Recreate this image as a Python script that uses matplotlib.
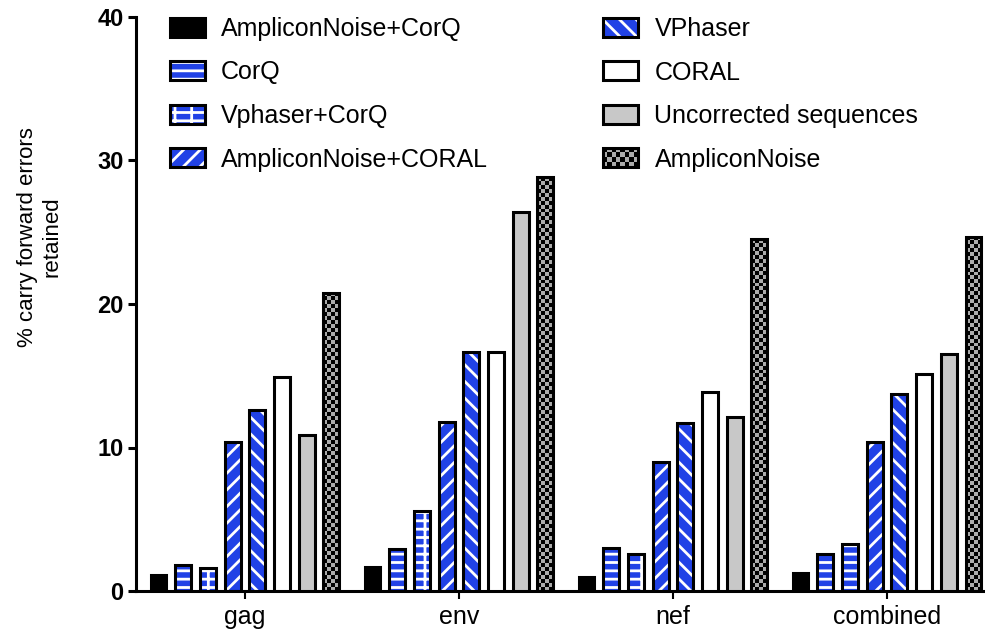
import matplotlib
matplotlib.use("Agg")

import numpy as np
import matplotlib.pyplot as plt
from matplotlib.patches import Rectangle
from matplotlib.colors import ListedColormap, Normalize
from matplotlib.legend_handler import HandlerBase, HandlerTuple
from matplotlib.image import BboxImage
from matplotlib.transforms import Bbox, TransformedBbox

# ---------------------------------------------------------------
# data
# ---------------------------------------------------------------
genes = ["gag", "env", "nef", "combined"]
methods = ["AmpliconNoise+CorQ", "CorQ", "Vphaser+CorQ", "AmpliconNoise+CORAL",
           "VPhaser", "CORAL", "Uncorrected sequences", "AmpliconNoise"]

ampnoise_corq  = [1.1, 1.7, 1.0, 1.25]
corq           = [1.8, 2.9, 3.0, 2.6]
vphaser_corq   = [1.6, 5.6, 2.6, 3.3]
ampnoise_coral = [10.4, 11.8, 9.0, 10.4]
vphaser        = [12.6, 16.65, 11.7, 13.7]
coral          = [14.9, 16.65, 13.9, 15.1]
uncorrected    = [10.9, 26.4, 12.1, 16.5]
ampnoise       = [20.8, 28.85, 24.5, 24.7]

series = [ampnoise_corq, corq, vphaser_corq, ampnoise_coral,
          vphaser, coral, uncorrected, ampnoise]

# ---------------------------------------------------------------
# style
# ---------------------------------------------------------------
BLUE = "#2142e6"
GREY = "#c8c8c8"
LW = 2.2
plt.rcParams["font.family"] = ["Liberation Sans", "DejaVu Sans"]
plt.rcParams["hatch.linewidth"] = 2.0

# (facecolor, hatch) per method; None hatch = plain fill
styles = [
    ("black", None),
    (BLUE, "--"),
    (BLUE, "+-"),
    (BLUE, "//"),
    (BLUE, "\\\\"),
    ("white", None),
    (GREY, None),
    ("checker", None),
]

checker_cmap = ListedColormap(["#acacac", "black"])


def checker(rows, cols):
    r, c = np.indices((rows, cols))
    return ((r + c) % 2).astype(float)


class HandlerChecker(HandlerBase):
    def create_artists(self, legend, orig_handle, xdescent, ydescent,
                       width, height, fontsize, trans):
        bb = TransformedBbox(Bbox.from_bounds(-xdescent, -ydescent, width, height), trans)
        img = BboxImage(bb, cmap=checker_cmap, norm=Normalize(0, 1),
                        interpolation="nearest", origin="lower")
        img.set_data(checker(4, 8))
        frame = Rectangle((-xdescent, -ydescent), width, height, facecolor="none",
                          edgecolor="black", lw=LW, transform=trans)
        return [img, frame]


# ---------------------------------------------------------------
# figure
# ---------------------------------------------------------------
W, H = 985, 632
fig = plt.figure(figsize=(W / 100, H / 100), dpi=100)
ax = fig.add_axes([136 / W, 41 / H, 849 / W, 574 / H])

XMIN, XMAX = -0.509, 3.458
YMAX = 40
step = 0.1154
width = 0.074
x = np.arange(len(genes))

px_per_x = 849 / (XMAX - XMIN)
px_per_y = 574 / YMAX

handles = []
for j, (vals, (fc, hatch)) in enumerate(zip(series, styles)):
    xs = x + (j - 3.5) * step
    if fc == "checker":
        ncols = 4
        cell_px = width * px_per_x / ncols
        for xi, v in zip(xs, vals):
            nrows = max(1, int(round(v * px_per_y / cell_px)))
            ax.imshow(checker(nrows, ncols), cmap=checker_cmap, vmin=0, vmax=1,
                      extent=(xi - width / 2, xi + width / 2, 0, v),
                      origin="lower", aspect="auto", interpolation="nearest", zorder=2)
        outline = ax.bar(xs, vals, width, facecolor="none", edgecolor="black",
                         lw=LW, zorder=3)
        handles.append(outline[0])
    elif hatch:
        ax.bar(xs, vals, width, facecolor=fc, edgecolor="white", hatch=hatch,
               lw=0, zorder=2)
        ax.bar(xs, vals, width, facecolor="none", edgecolor="black", lw=LW, zorder=3)
        handles.append((Rectangle((0, 0), 1, 1, facecolor=fc, edgecolor="white",
                                  hatch=hatch, lw=0),
                        Rectangle((0, 0), 1, 1, facecolor="none", edgecolor="black",
                                  lw=LW)))
    else:
        b = ax.bar(xs, vals, width, facecolor=fc, edgecolor="black", lw=LW, zorder=3)
        handles.append(b[0])

ax.set_xlim(XMIN, XMAX)
ax.set_ylim(0, YMAX)

for s in ["top", "right"]:
    ax.spines[s].set_visible(False)
for s in ["left", "bottom"]:
    ax.spines[s].set_linewidth(LW)

ax.set_yticks([0, 10, 20, 30, 40])
ax.set_xticks(x)
ax.set_xticklabels(genes, fontsize=18)
ax.tick_params(axis="y", length=6, width=LW, pad=3, labelsize=17)
ax.tick_params(axis="x", length=6, width=1.5, pad=4)
for t in ax.get_yticklabels():
    t.set_fontweight("bold")

ax.set_ylabel("% carry forward errors\nretained", fontsize=16, linespacing=1.25)
ax.yaxis.set_label_coords(-0.086, 0.617)

handler_map = {tuple: HandlerTuple(ndivide=1, pad=0)}
handler_map[handles[-1]] = HandlerChecker()
ax.legend(handles, methods, ncol=2, loc="upper left", frameon=False,
          fontsize=18, bbox_to_anchor=(170 / W, 1 - 17 / H),
          bbox_transform=fig.transFigure, borderpad=0, borderaxespad=0,
          handlelength=1.4, handleheight=0.8, handletextpad=0.65,
          labelspacing=0.78, columnspacing=4.6, handler_map=handler_map)

fig.savefig("out.png", dpi=100)
